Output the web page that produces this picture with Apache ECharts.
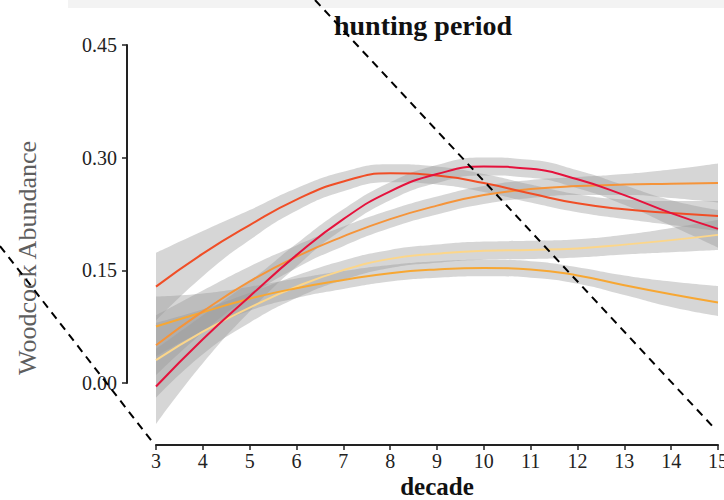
<!DOCTYPE html>
<html>
<head>
<meta charset="utf-8">
<script src="https://cdn.jsdelivr.net/npm/echarts@6/dist/echarts.min.js"></script>
<style>
html,body{margin:0;padding:0;background:#fff;}
#chart{width:724px;height:500px;}
</style>
</head>
<body>
<div id="chart"></div>
<script>
// ---- data ----
const decades = ['3','4','5','6','7','8','9','10','11','12','13','14','15'];
const yTicks = [0, 0.15, 0.30, 0.45];

// crimson curve
const crMean = [-0.005,0.058,0.115,0.170,0.218,0.255,0.278,0.288,0.285,0.271,0.250,0.226,0.205];
const crLow  = [-0.055,0.026,0.095,0.155,0.205,0.243,0.266,0.276,0.273,0.259,0.237,0.209,0.180];
const crHigh = [0.045,0.090,0.135,0.185,0.231,0.267,0.290,0.300,0.297,0.283,0.263,0.243,0.230];
// red-orange curve
const roMean = [0.128,0.172,0.210,0.244,0.268,0.279,0.276,0.266,0.252,0.239,0.231,0.226,0.222];
const roLow  = [0.083,0.142,0.190,0.229,0.255,0.267,0.264,0.254,0.240,0.227,0.218,0.210,0.202];
const roHigh = [0.173,0.202,0.230,0.259,0.281,0.291,0.288,0.278,0.264,0.251,0.244,0.242,0.242];
// orange (rising) curve
const otMean = [0.050,0.095,0.135,0.168,0.195,0.218,0.236,0.250,0.258,0.262,0.264,0.265,0.266];
const otLow  = [0.010,0.067,0.115,0.153,0.182,0.206,0.224,0.238,0.246,0.250,0.250,0.246,0.240];
const otHigh = [0.090,0.123,0.155,0.183,0.208,0.230,0.248,0.262,0.270,0.274,0.278,0.284,0.292];
// orange (lower) curve
const loMean = [0.075,0.094,0.112,0.126,0.137,0.146,0.151,0.153,0.151,0.143,0.130,0.118,0.107];
const loLow  = [0.035,0.069,0.096,0.113,0.125,0.135,0.140,0.142,0.140,0.132,0.117,0.101,0.089];
const loHigh = [0.115,0.119,0.128,0.139,0.149,0.157,0.162,0.164,0.162,0.154,0.143,0.135,0.129];
// light yellow curve
const yeMean = [0.030,0.068,0.100,0.128,0.150,0.165,0.172,0.176,0.177,0.179,0.184,0.190,0.197];
const yeLow  = [-0.020,0.038,0.080,0.113,0.137,0.153,0.160,0.164,0.165,0.167,0.171,0.174,0.177];
const yeHigh = [0.080,0.098,0.120,0.143,0.163,0.177,0.184,0.188,0.189,0.191,0.197,0.206,0.217];

const curves = [
  {name:'yellow',     mean:yeMean, low:yeLow, high:yeHigh, color:'#fcd68a'},
  {name:'orangeLow',  mean:loMean, low:loLow, high:loHigh, color:'#f7a733'},
  {name:'orangeHigh', mean:otMean, low:otLow, high:otHigh, color:'#f5943a'},
  {name:'redOrange',  mean:roMean, low:roLow, high:roHigh, color:'#f04e26'},
  {name:'crimson',    mean:crMean, low:crLow, high:crHigh, color:'#e5123c'}
];

const SERIF = '"Liberation Serif","Times New Roman",serif';

const series = [];
curves.forEach(c => {
  series.push({
    type:'line', stack:'band_'+c.name, stackStrategy:'all',
    data: c.low.slice(),
    smooth:true, symbol:'none', silent:true,
    lineStyle:{opacity:0}, z:1
  });
  series.push({
    type:'line', stack:'band_'+c.name, stackStrategy:'all',
    data: c.high.map((h,i)=>+(h - c.low[i]).toFixed(4)),
    smooth:true, symbol:'none', silent:true,
    lineStyle:{opacity:0},
    areaStyle:{color:'#999999', opacity:0.4}, z:1
  });
});
curves.forEach(c => {
  series.push({
    type:'line', name:c.name,
    data: c.mean.slice(),
    smooth:true, symbol:'none', silent:true,
    lineStyle:{color:c.color, width:2}, z:3
  });
});

// axis-only grid for the truncated y axis
series.push({type:'line', xAxisIndex:1, yAxisIndex:1, data:[], silent:true});

const chart = echarts.init(document.getElementById('chart'), null, {renderer:'svg'});
chart.setOption({
  animation:false,
  backgroundColor:'#ffffff',
  grid:[
    {left:156, right:6, top:45, bottom:55, containLabel:false, outerBoundsMode:'none'},
    {left:127, width:1, top:45, bottom:117, containLabel:false, outerBoundsMode:'none'}
  ],
  xAxis:[
    {
      type:'category', data:decades, boundaryGap:false, gridIndex:0,
      axisLine:{show:true, onZero:false, lineStyle:{color:'#222', width:2}},
      axisTick:{show:true, length:5, alignWithLabel:true, lineStyle:{color:'#222', width:1.5}},
      axisLabel:{fontFamily:SERIF, fontSize:20, color:'#222', margin:6, interval:0},
      splitLine:{show:false}
    },
    {type:'value', gridIndex:1, show:false, min:0, max:1}
  ],
  yAxis:[
    {type:'value', gridIndex:0, min:-0.083, max:0.45, show:false, splitLine:{show:false}},
    {
      type:'value', gridIndex:1, min:yTicks[0], max:yTicks[yTicks.length-1], interval:0.15,
      axisLine:{show:true, lineStyle:{color:'#222', width:2}},
      axisTick:{show:true, length:5, lineStyle:{color:'#222', width:1.5}},
      axisLabel:{fontFamily:SERIF, fontSize:20, color:'#222', margin:10,
                 formatter:v=>v.toFixed(2)},
      splitLine:{show:false}
    }
  ],
  graphic:[
    {type:'rect', shape:{x:68, y:0, width:656, height:8}, style:{fill:'#f3f3f3'}, silent:true, z:0},
    {type:'text', x:423, y:25, style:{text:'hunting period', font:'bold 28px '+SERIF, fill:'#111', align:'center', verticalAlign:'middle'}, z:10},
    {type:'text', x:437, y:486, style:{text:'decade', font:'bold 25px '+SERIF, fill:'#111', align:'center', verticalAlign:'middle'}, z:10},
    {type:'text', x:27, y:258, rotation:Math.PI/2, style:{text:'Woodcock Abundance', font:'26px '+SERIF, fill:'#5e5e5e', align:'center', verticalAlign:'middle'}, z:10},
    {type:'line', shape:{x1:315, y1:0, x2:716, y2:430}, style:{stroke:'#000', lineWidth:2, lineDash:[8,6]}, silent:true, z:20},
    {type:'line', shape:{x1:0, y1:246, x2:154, y2:444}, style:{stroke:'#000', lineWidth:2, lineDash:[8,6]}, silent:true, z:20}
  ],
  series:series
});
</script>
</body>
</html>
